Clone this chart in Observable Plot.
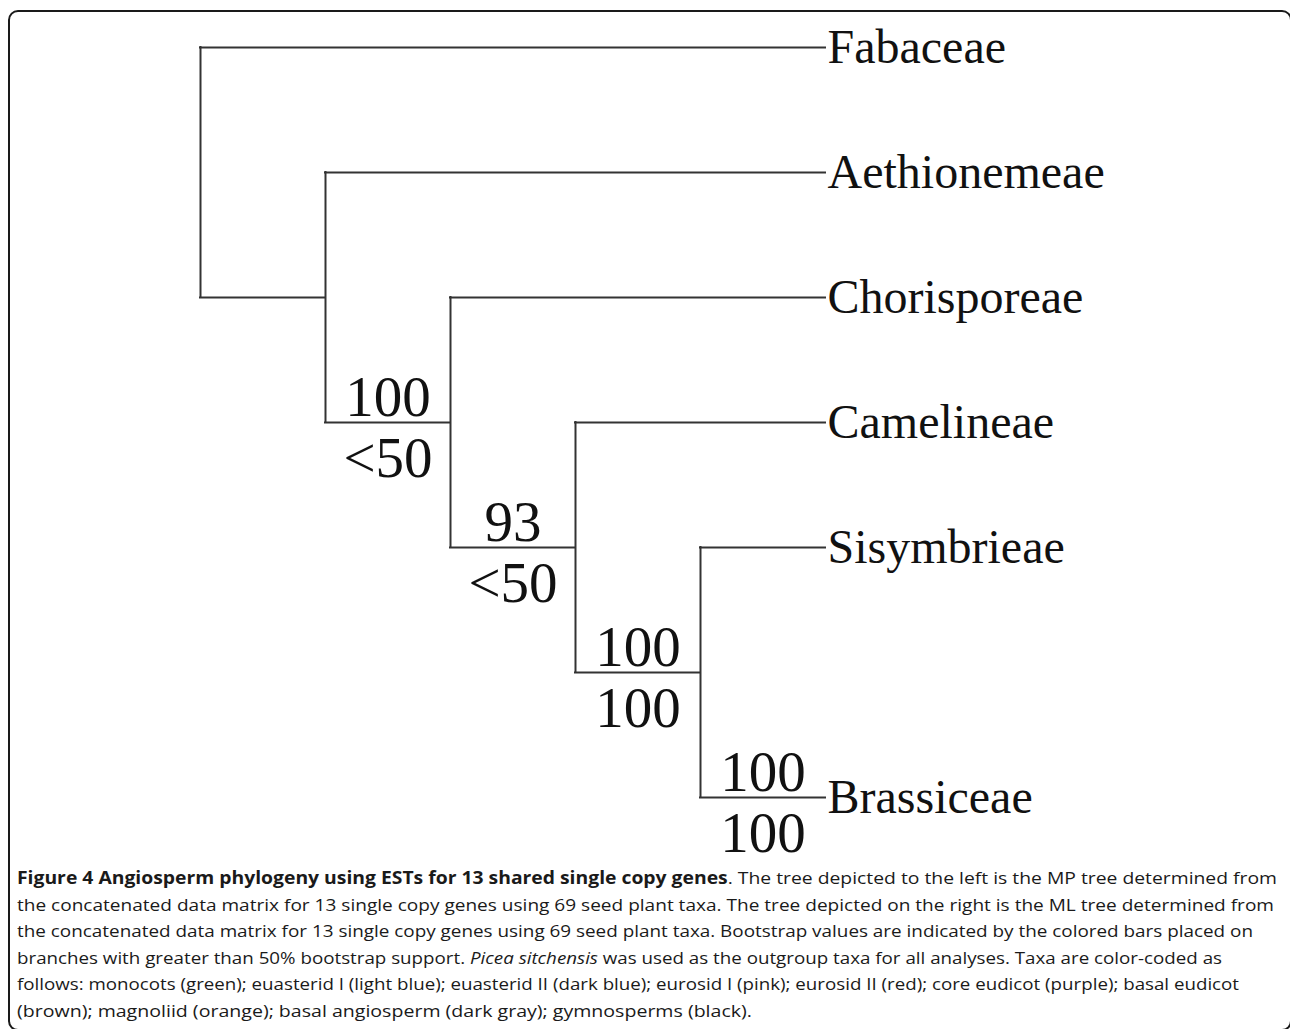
<!DOCTYPE html>
<html>
<head>
<meta charset="utf-8">
<script src="https://cdn.jsdelivr.net/npm/d3@7"></script>
<script src="https://cdn.jsdelivr.net/npm/@observablehq/plot@0.6"></script>
<style>
  html, body { margin: 0; padding: 0; background: #fff; overflow: hidden; }
  #page { position: relative; width: 1290px; height: 1029px; overflow: hidden; }
  #frame { position: absolute; left: 8px; top: 10px; width: 1284px; height: 1021px;
           box-sizing: border-box; border: 2px solid #1a1a1a; border-radius: 10px; }
  #chart { position: absolute; left: 0; top: 0; }
  #caption { position: absolute; left: 17px; top: 865px; font-family: "Open Sans", sans-serif;
             font-size: 17px; line-height: 26.6px; color: #1a1a1a; }
  #caption .ln { display: block; white-space: nowrap; }
  #caption .ln span.inner { display: inline-block; transform-origin: 0 50%; }
</style>
</head>
<body>
<div id="page">
  <div id="frame"></div>
  <div id="chart"></div>
  <div id="caption"></div>
</div>
<script>
// ---- data ----
const taxa = ["Fabaceae", "Aethionemeae", "Chorisporeae", "Camelineae", "Sisymbrieae", "Brassiceae"];
const tipRows = [0, 1, 2, 3, 4, 6];
const tipParents = ["root", "n2", "n3", "n4", "n5", "n5"];
const tipDepth = 5;

const nodeIds = ["root", "n2", "n3", "n4", "n5"];
const nodeDepths = [0, 1, 2, 3, 4];
const nodeRows = [1, 2, 3, 4, 5];
const nodeParents = [null, "root", "n2", "n3", "n4"];

const supportBranches = ["n3", "n4", "n5", "Brassiceae"];
const mpSupport = ["100", "93", "100", "100"];
const mlSupport = ["<50", "<50", "100", "100"];

const captionLines = [
  [["b", "Figure 4 Angiosperm phylogeny using ESTs for 13 shared single copy genes"], ["n", ". The tree depicted to the left is the MP tree determined from"]],
  [["n", "the concatenated data matrix for 13 single copy genes using 69 seed plant taxa. The tree depicted on the right is the ML tree determined from"]],
  [["n", "the concatenated data matrix for 13 single copy genes using 69 seed plant taxa. Bootstrap values are indicated by the colored bars placed on"]],
  [["n", "branches with greater than 50% bootstrap support. "], ["i", "Picea sitchensis"], ["n", " was used as the outgroup taxa for all analyses. Taxa are color-coded as"]],
  [["n", "follows: monocots (green); euasterid I (light blue); euasterid II (dark blue); eurosid I (pink); eurosid II (red); core eudicot (purple); basal eudicot"]],
  [["n", "(brown); magnoliid (orange); basal angiosperm (dark gray); gymnosperms (black)."]]
];
const captionWidths = [1260, 1257, 1236, 1205, 1222, 735];

// ---- build tree tables ----
const pos = new Map();
nodeIds.forEach((id, i) => pos.set(id, {depth: nodeDepths[i], row: nodeRows[i]}));
taxa.forEach((t, i) => pos.set(t, {depth: tipDepth, row: tipRows[i]}));

const horiz = [];
taxa.forEach((t, i) => horiz.push({x1: pos.get(tipParents[i]).depth, x2: tipDepth, y: tipRows[i]}));
nodeIds.forEach((id, i) => {
  if (nodeParents[i]) horiz.push({x1: pos.get(nodeParents[i]).depth, x2: nodeDepths[i], y: nodeRows[i]});
});

const childRows = new Map();
taxa.forEach((t, i) => { const a = childRows.get(tipParents[i]) || []; a.push(tipRows[i]); childRows.set(tipParents[i], a); });
nodeIds.forEach((id, i) => { if (nodeParents[i]) { const a = childRows.get(nodeParents[i]) || []; a.push(nodeRows[i]); childRows.set(nodeParents[i], a); } });
const vert = nodeIds.map((id, i) => ({x: nodeDepths[i], y1: d3.min(childRows.get(id)), y2: d3.max(childRows.get(id))}));

const tips = taxa.map((t, i) => ({name: t, x: tipDepth, y: tipRows[i]}));

const support = supportBranches.map((b, i) => {
  const child = pos.get(b);
  const parentId = nodeIds.includes(b) ? nodeParents[nodeIds.indexOf(b)] : tipParents[taxa.indexOf(b)];
  const parent = pos.get(parentId);
  return {x: (parent.depth + child.depth) / 2, y: child.row, mp: mpSupport[i], ml: mlSupport[i]};
});

const serif = "'Liberation Serif', 'Times New Roman', serif";
const lineColor = "#333";

const chart = Plot.plot({
  width: 1290,
  height: 865,
  margin: 0,
  x: {domain: [0, 5], range: [200, 825], axis: null},
  y: {domain: [0, 6], range: [47, 797], axis: null},
  style: {background: "transparent", overflow: "visible"},
  marks: [
    Plot.ruleY(horiz, {y: "y", x1: "x1", x2: "x2", stroke: lineColor, strokeWidth: 2, strokeLinecap: "square"}),
    Plot.ruleX(vert, {x: "x", y1: "y1", y2: "y2", stroke: lineColor, strokeWidth: 2, strokeLinecap: "square"}),
    Plot.text(tips, {x: "x", y: "y", text: "name", textAnchor: "start", dx: 2, fontFamily: serif, fontSize: 48, fill: "#111"}),
    Plot.text(support, {x: "x", y: "y", text: "mp", lineAnchor: "bottom", dy: -7, fontFamily: serif, fontSize: 57, fill: "#111"}),
    Plot.text(support, {x: "x", y: "y", text: "ml", lineAnchor: "bottom", dy: 54, fontFamily: serif, fontSize: 57, fill: "#111"})
  ]
});
document.getElementById("chart").appendChild(chart);

// ---- caption ----
const cap = document.getElementById("caption");
captionLines.forEach((parts, li) => {
  const ln = document.createElement("div");
  ln.className = "ln";
  const inner = document.createElement("span");
  inner.className = "inner";
  parts.forEach(([kind, txt]) => {
    const s = document.createElement(kind === "b" ? "b" : kind === "i" ? "i" : "span");
    if (kind === "b") s.style.fontWeight = "700";
    s.textContent = txt;
    inner.appendChild(s);
  });
  ln.appendChild(inner);
  cap.appendChild(ln);
  const w = inner.getBoundingClientRect().width;
  inner.style.transform = `scaleX(${captionWidths[li] / w})`;
});
</script>
</body>
</html>
